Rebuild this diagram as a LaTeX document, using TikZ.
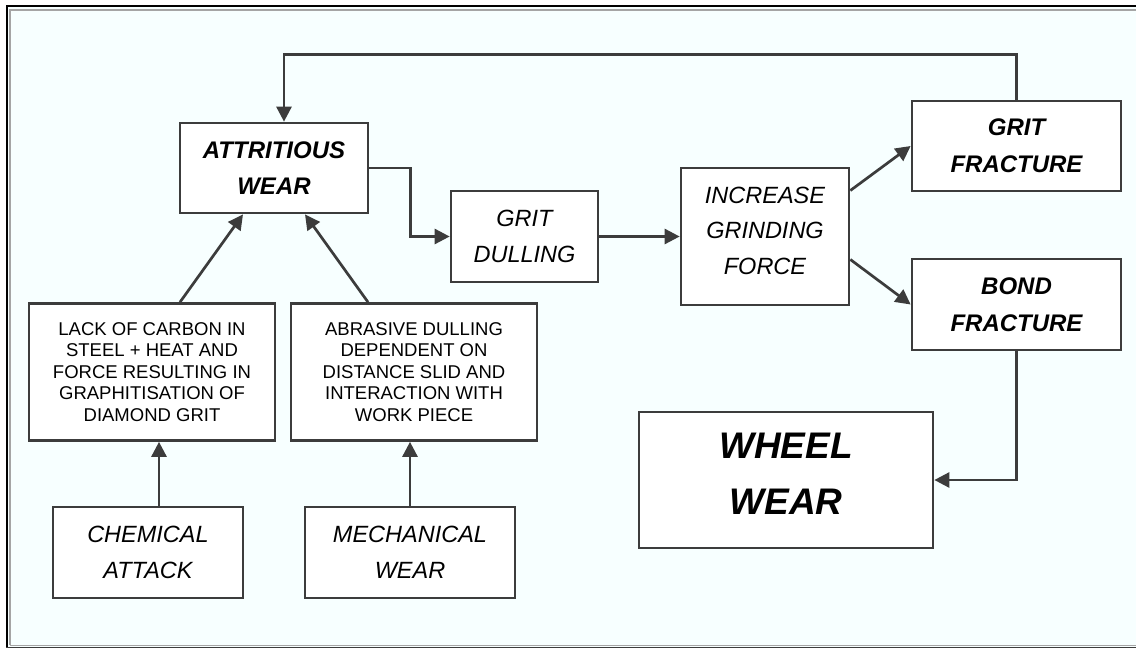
\documentclass[tikz,border=0pt]{standalone}
\usepackage{fontspec}
\setmainfont{Liberation Sans}
\usetikzlibrary{calc,positioning}
\usetikzlibrary{arrows.meta}
\definecolor{linegray}{RGB}{60,60,60}
\definecolor{paper}{RGB}{247,255,255}
\definecolor{rimgray}{RGB}{165,165,165}
\tikzstyle{block}=[draw=linegray, line width=2.7pt, fill=white, inner sep=0pt, align=center]
\tikzstyle{note}=[block, font=\fontsize{18.5}{21.5}\selectfont]
\tikzstyle{cause}=[block, font=\fontsize{23.5}{35.7}\selectfont\itshape]
\tikzstyle{stage}=[block, font=\fontsize{24}{36.7}\selectfont\bfseries\itshape]
\tikzstyle{link}=[-{Triangle[length=15pt,width=15pt]}, draw=linegray, line width=2.7pt]

\begin{document}
\begin{tikzpicture}[x=1pt,y=1pt]
\useasboundingbox (0,0) rectangle (1136,-648);
% sunken frame
\fill[white] (0,0) rectangle (1136,-648);
\fill[paper] (6,-5) rectangle (1136,-648);
\draw[black, line width=2pt] (6.5,-648) -- (6.5,-5.5) -- (1136,-5.5);
\draw[rimgray, line width=2pt] (10,-645) -- (10,-9.5) -- (1136,-9.5);
\draw[rimgray, line width=1.5pt] (10,-645.5) -- (1136,-645.5);
\draw[linegray, line width=1.5pt] (6,-647.5) -- (1136,-647.5);

\node (attr) [stage, minimum width=188pt, minimum height=90pt] at (274,-168) {ATTRITIOUS\\WEAR};
\node (dull) [yshift=-68.5pt, xshift=250.5pt] at (attr) [cause, minimum width=147pt, minimum height=91pt] {GRIT\\DULLING};
\node (force) [xshift=240.5pt] at (dull) [cause, text depth=12pt, minimum width=168pt, minimum height=137pt] {INCREASE\\GRINDING\\FORCE};
\node (gfrac) [yshift=90.5pt, xshift=251.5pt] at (force) [stage, minimum width=209pt, minimum height=90pt] {GRIT\\FRACTURE};
\node (bfrac) [yshift=-158.5pt] at (gfrac) [stage, minimum width=209pt, minimum height=91pt] {BOND\\FRACTURE};
\node (wheel) [yshift=-175.5pt, xshift=-230.5pt] at (bfrac) [stage, font=\fontsize{37}{56}\selectfont\bfseries\itshape, text depth=13pt, minimum width=294pt, minimum height=136pt] {WHEEL\\WEAR};
\node (lack) [yshift=-204pt, xshift=-122pt] at (attr) [note, minimum width=246pt, minimum height=137pt] {LACK OF CARBON IN\\STEEL + HEAT AND\\FORCE RESULTING IN\\GRAPHITISATION OF\\DIAMOND GRIT};
\node (abr) [xshift=262pt] at (lack) [note, minimum width=246pt, minimum height=137pt] {ABRASIVE DULLING\\DEPENDENT ON\\DISTANCE SLID AND\\INTERACTION WITH\\WORK PIECE};
\node (chem) [yshift=-180.5pt, xshift=-4pt] at (lack) [cause, minimum width=190pt, minimum height=91pt] {CHEMICAL\\ATTACK};
\node (mech) [yshift=-180.5pt, xshift=-4pt] at (abr) [cause, minimum width=210pt, minimum height=91pt] {MECHANICAL\\WEAR};

\draw [link] ([xshift=11pt]chem.north) -- ([xshift=11pt]chem.north |- lack.south);
\draw [link] (mech.north) -- (mech.north |- abr.south);
\draw [link] ([xshift=28pt]lack.north) -- ([xshift=-31pt]attr.south);
\draw [link] ([xshift=-46pt]abr.north) -- ([xshift=31pt]attr.south);
\draw [link] (attr.east) -- ++(41,0) |- (dull.west);
\draw [link] (dull) -- (force);
\draw [link] ([yshift=46pt]force.east) -- (gfrac.west);
\draw [link] ([yshift=-23pt]force.east) -- (bfrac.west);
\draw [link] (gfrac.north) -- ++(0,45) -| ([xshift=10pt]attr.north);
\draw [link] (bfrac.south) |- (wheel.east);
\end{tikzpicture}
\end{document}
